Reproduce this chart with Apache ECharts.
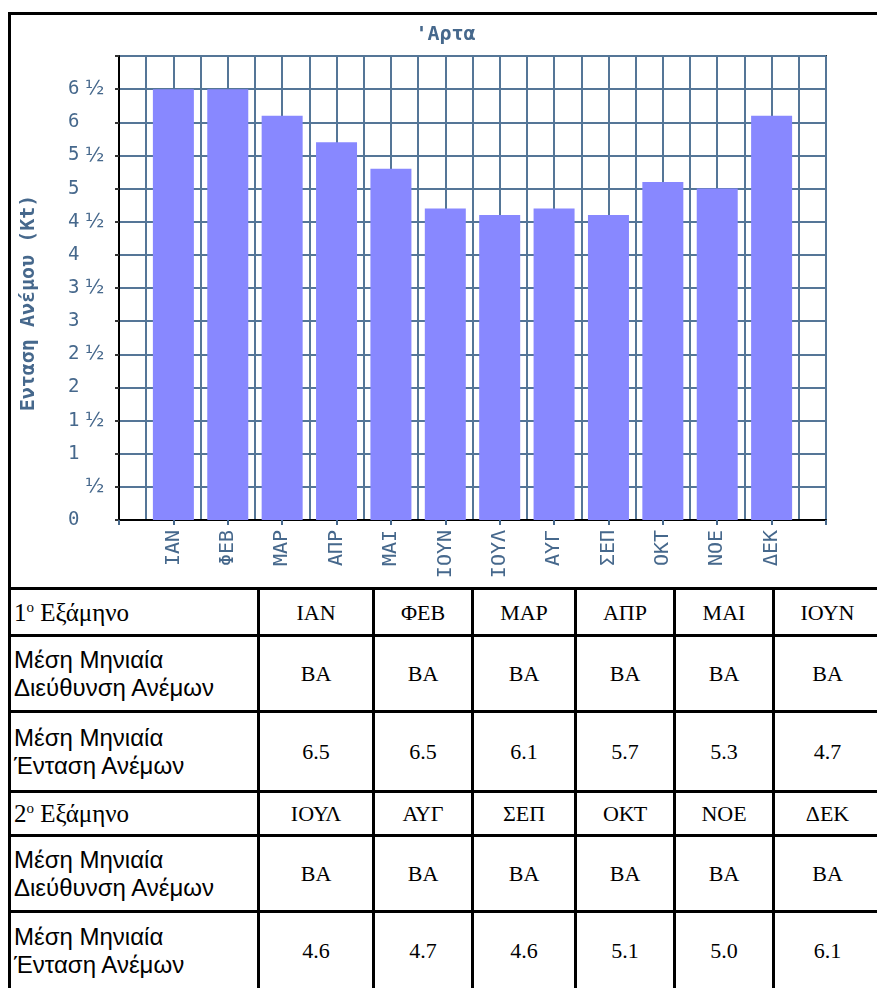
<!DOCTYPE html>
<html>
<head>
<meta charset="utf-8">
<title>Άρτα – Άνεμος</title>
<script src="https://cdn.jsdelivr.net/npm/echarts@6/dist/echarts.min.js"></script>
<style>
  html, body { margin: 0; padding: 0; background: #fff; overflow: hidden; width: 877px; height: 988px; }
  #sheet {
    position: absolute; left: 8px; top: 12px;
    background: #000; padding: 3px;
    display: grid; gap: 3px;
    grid-template-columns: 246px 112px 96px 100px 96px 96px 105px;
    grid-template-rows: 572px 44px 73px 77px 41px 73px 75px;
  }
  #sheet > div {
    background: #fff;
    font-family: "Liberation Serif", "DejaVu Serif", serif;
    font-size: 22px; color: #000;
    display: flex; align-items: center; justify-content: center;
    line-height: 27px;
  }
  #sheet > div.head { justify-content: flex-start; padding-left: 3px; font-size: 25px; }
  #sheet > div.head.sans { font-family: "Liberation Sans", "DejaVu Sans", sans-serif; font-size: 24px; line-height: 28px; }
  #sheet > div.chartCell { grid-column: 1 / -1; display: block; }
  #chart { width: 869px; height: 572px; }
  sup { font-size: 15px; line-height: 0; vertical-align: 9px; }
</style>
</head>
<body>
<div id="sheet"><div class="chartCell"><div id="chart"></div></div></div>
<script>
// Monthly mean wind at Arta
const months = ['ΙΑΝ', 'ΦΕΒ', 'ΜΑΡ', 'ΑΠΡ', 'ΜΑΙ', 'ΙΟΥΝ', 'ΙΟΥΛ', 'ΑΥΓ', 'ΣΕΠ', 'ΟΚΤ', 'ΝΟΕ', 'ΔΕΚ'];
const windSpeed = [6.5, 6.5, 6.1, 5.7, 5.3, 4.7, 4.6, 4.7, 4.6, 5.1, 5.0, 6.1];
const windDirection = ['ΒΑ', 'ΒΑ', 'ΒΑ', 'ΒΑ', 'ΒΑ', 'ΒΑ', 'ΒΑ', 'ΒΑ', 'ΒΑ', 'ΒΑ', 'ΒΑ', 'ΒΑ'];
const semesterNames = ['1<sup>ο</sup> Εξάμηνο', '2<sup>ο</sup> Εξάμηνο'];
const directionLabel = 'Μέση Μηνιαία<br>Διεύθυνση Ανέμων';
const speedLabel = 'Μέση Μηνιαία<br>Ένταση Ανέμων';
const chartTitle = "'Αρτα";
const yAxisTitle = 'Ενταση Ανέμου (Kt)';
const halfSign = '½';

// ---- table under the chart ----
const sheet = document.getElementById('sheet');
function cell(html, cls) {
  const d = document.createElement('div');
  if (cls) d.className = cls;
  d.innerHTML = '<span>' + html + '</span>';
  sheet.appendChild(d);
}
for (let s = 0; s < 2; s++) {
  const idx = [0, 1, 2, 3, 4, 5].map(k => s * 6 + k);
  cell(semesterNames[s], 'head');
  idx.forEach(i => cell(months[i]));
  cell(directionLabel, 'head sans');
  idx.forEach(i => cell(windDirection[i]));
  cell(speedLabel, 'head sans');
  idx.forEach(i => cell(windSpeed[i].toFixed(1)));
}

// ---- bar chart ----
const ink = '#46688c';
const gridLine = { color: '#557697', width: 2 };
const chart = echarts.init(document.getElementById('chart'), null, { renderer: 'canvas' });
chart.setOption({
  animation: false,
  title: {
    text: chartTitle, left: 'center', top: 10, padding: 0,
    textStyle: { color: ink, fontFamily: 'DejaVu Sans Mono', fontWeight: 'bold', fontSize: 20 }
  },
  grid: { left: 107, top: 41, width: 708, height: 464, show: true, borderColor: '#333', borderWidth: 2 },
  xAxis: {
    type: 'value', min: 0, max: 13, interval: 1,
    axisLine: { show: true, onZero: false, lineStyle: { color: '#000', width: 2 } },
    axisTick: { show: true, length: 5, lineStyle: { color: ink, width: 2 } },
    axisLabel: {
      rotate: 90, margin: 10, color: ink, fontFamily: 'DejaVu Sans Mono', fontSize: 20,
      showMinLabel: true, showMaxLabel: true,
      formatter: v => months[v - 1] || ''
    },
    splitLine: { show: true, lineStyle: gridLine },
    minorTick: { show: false, splitNumber: 2 },
    minorSplitLine: { show: true, lineStyle: gridLine }
  },
  yAxis: {
    type: 'value', min: 0, max: 7, interval: 0.5,
    name: yAxisTitle, nameLocation: 'middle', nameGap: 80,
    nameTextStyle: { color: ink, fontFamily: 'DejaVu Sans Mono', fontWeight: 'bold', fontSize: 20, padding: [0, 30, 0, 0] },
    axisLine: { show: true, lineStyle: { color: '#000', width: 2 } },
    axisTick: { show: true, length: 4, lineStyle: { color: '#333', width: 2 } },
    axisLabel: {
      align: 'left', margin: 51, color: ink,
      formatter: v => {
        if (v >= 7) return '';
        const n = Math.floor(v);
        if (v - n < 0.25) return '{i|' + n + '}';
        return '{i|' + (n ? n : ' ') + '}{h|' + halfSign + '}';
      },
      rich: {
        i: { width: 17, fontFamily: 'DejaVu Sans Mono', fontSize: 19, color: ink },
        h: { fontFamily: 'DejaVu Sans', fontSize: 20, color: ink }
      }
    },
    splitLine: { show: true, lineStyle: gridLine }
  },
  series: [{
    type: 'bar', barWidth: 41,
    itemStyle: { color: '#8888ff' },
    data: windSpeed.map((v, i) => [i + 1, v])
  }]
});
</script>
</body>
</html>
